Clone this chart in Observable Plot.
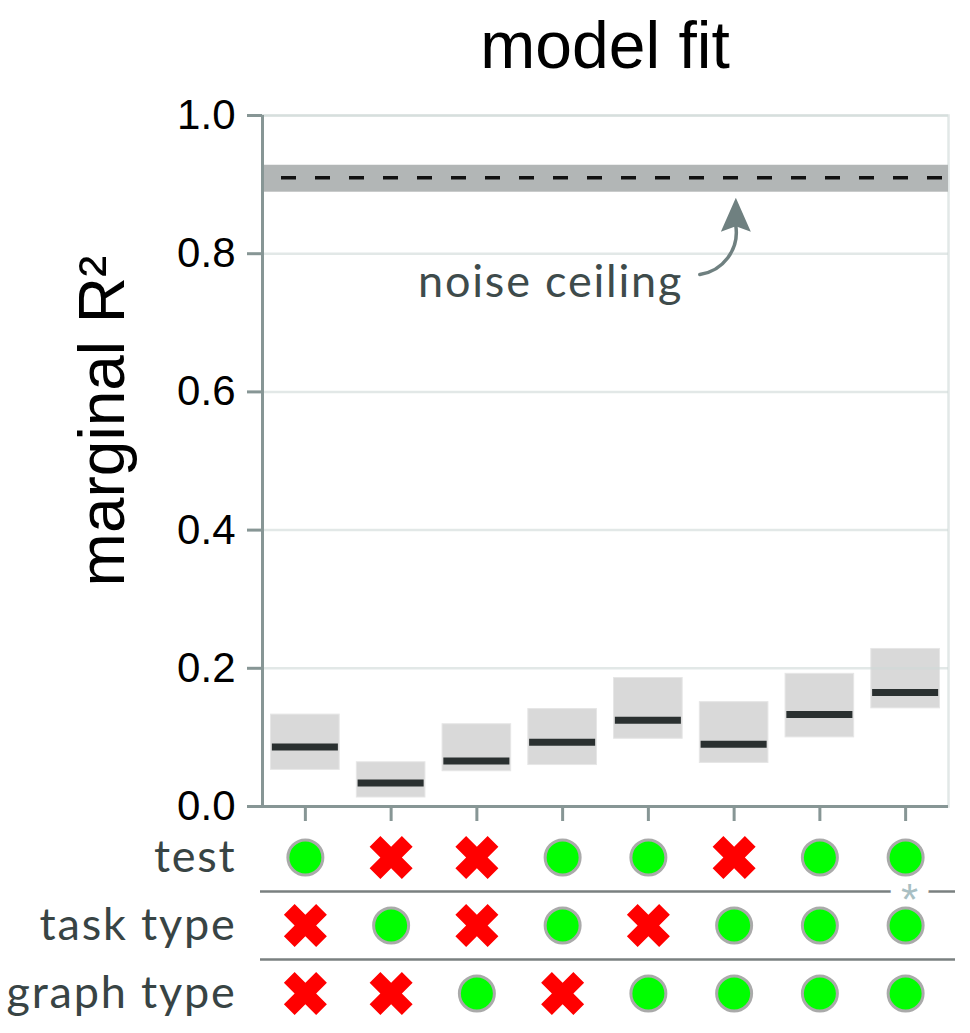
<!DOCTYPE html>
<html>
<head>
<meta charset="utf-8">
<script src="https://cdn.jsdelivr.net/npm/d3@7"></script>
<script src="https://cdn.jsdelivr.net/npm/@observablehq/plot@0.6"></script>
<style>
  body { margin: 0; background: #fff; width: 970px; }
  #title { box-sizing: border-box; height: 90px; padding: 12px 22px 0 262px; text-align: center;
           font-family: "Liberation Sans", Arial, sans-serif; font-size: 66px; line-height: 66px; color: #000; }
  svg { display: block; }
  g[font-family="Lato"] text { letter-spacing: 1.8px; }
</style>
</head>
<body>
<div id="title">model fit</div>
<div id="chart1"></div>
<div id="chart2"></div>
<script>
// ---- data ----
const models = [1, 2, 3, 4, 5, 6, 7, 8];
const medians = [0.086, 0.034, 0.066, 0.093, 0.125, 0.090, 0.133, 0.165];
const lows    = [0.053, 0.013, 0.051, 0.060, 0.098, 0.063, 0.100, 0.142];
const highs   = [0.133, 0.064, 0.119, 0.141, 0.186, 0.151, 0.192, 0.228];
const yTicks = [0, 0.2, 0.4, 0.6, 0.8, 1.0];
const yLabel = "marginal R²";
const ceilingLo = 0.889, ceilingMid = 0.910, ceilingHi = 0.928;
const noteText = "noise ceiling";
const notePos = {x: 3.86, y: 0.738};
const arrowStart = {x: 5.60, y: 0.770};
const arrowEnd = {x: 6.02, y: 0.840};
const arrowTip = {x: 6.02, y: 0.881};
const rowLabels = ["test", "task type", "graph type"];
const testUsed  = [1, 0, 0, 1, 1, 0, 1, 1];
const taskUsed  = [0, 1, 0, 1, 0, 1, 1, 1];
const graphUsed = [0, 0, 1, 0, 1, 1, 1, 1];
const starMark = {col: 8, between: 0.5, text: "*"};

// ---- derived tables ----
const boxes = models.map((m, k) => ({m, lo: lows[k], hi: highs[k], med: medians[k]}));
const ceiling = [{lo: ceilingLo, mid: ceilingMid, hi: ceilingHi}];
const cells = [];
[testUsed, taskUsed, graphUsed].forEach((arr, row) =>
  arr.forEach((on, k) => cells.push({col: models[k], row, on: !!on})));

// ---- custom symbols ----
const thickX = {
  draw(ctx, size) {
    const s = Math.sqrt(size / Math.PI), k = s * 0.5;
    const pts = [[-(s-k), -s], [0, -k], [s-k, -s], [s, -(s-k)], [k, 0], [s, s-k],
                 [s-k, s], [0, k], [-(s-k), s], [-s, s-k], [-k, 0], [-s, -(s-k)]];
    ctx.moveTo(pts[0][0], pts[0][1]);
    for (let i = 1; i < pts.length; i++) ctx.lineTo(pts[i][0], pts[i][1]);
    ctx.closePath();
  }
};
const arrowHead = {
  draw(ctx, size) {
    const s = Math.sqrt(size / Math.PI);
    ctx.moveTo(0, 0);
    ctx.lineTo(s, 2.27 * s);
    ctx.lineTo(0, 1.9 * s);
    ctx.lineTo(-s, 2.27 * s);
    ctx.closePath();
  }
};

const axisColor = "#879695";
const xDomain = [0.5, 8.5];

const p1 = Plot.plot({
  width: 970, height: 740,
  marginLeft: 262, marginRight: 22, marginTop: 25, marginBottom: 24,
  x: {domain: xDomain},
  y: {domain: [0, 1]},
  style: {fontFamily: "'Liberation Sans', Arial, sans-serif", fontSize: "42px", background: "white", overflow: "visible"},
  marks: [
    Plot.frame({stroke: "#e2e8e7", strokeWidth: 2.5}),
    Plot.rect(ceiling, {y1: "lo", y2: "hi", fill: "#b2b6b6"}),
    Plot.rect(boxes, {x1: d => d.m - 0.4, x2: d => d.m + 0.4, y1: "lo", y2: "hi", fill: "#d9d9d9", stroke: "#e6e6e6", strokeWidth: 1}),
    Plot.gridY(yTicks, {stroke: "#cfd9d7", strokeOpacity: 0.6, strokeWidth: 2.5}),
    Plot.ruleY(boxes, {y: "med", x1: d => d.m - 0.385, x2: d => d.m + 0.385, stroke: "#2a3030", strokeWidth: 7}),
    Plot.ruleY(ceiling, {y: "mid", stroke: "#111", strokeWidth: 3.5, strokeDasharray: "15,19", strokeDashoffset: 15}),
    Plot.arrow([{x1: arrowStart.x, y1: arrowStart.y, x2: arrowEnd.x, y2: arrowEnd.y}],
      {x1: "x1", y1: "y1", x2: "x2", y2: "y2", bend: -45, headLength: 0, stroke: "#6f8080", strokeWidth: 3.5, strokeLinecap: "round"}),
    Plot.dot([arrowTip], {x: "x", y: "y", symbol: arrowHead, r: 15, fill: "#6f8080"}),
    Plot.text([notePos], {x: "x", y: "y", text: () => noteText, fontFamily: "Lato", fontSize: 45, fill: "#3e4b4b", textAnchor: "middle", lineAnchor: "bottom"}),
    Plot.ruleX([xDomain[0]], {stroke: axisColor, strokeWidth: 3}),
    Plot.ruleY([0], {stroke: axisColor, strokeWidth: 3}),
    Plot.axisY(yTicks, {tickFormat: d3.format(".1f"), tickSize: 15, tickPadding: 12, stroke: axisColor, strokeWidth: 3, fill: "black", fontSize: 42, label: null}),
    Plot.axisX(models, {tickFormat: () => "", tickSize: 15, stroke: axisColor, strokeWidth: 3, label: null}),
    Plot.text([yLabel], {frameAnchor: "left", rotate: -90, dx: -139, dy: -40, lineAnchor: "bottom", textAnchor: "middle", fontSize: 64, fill: "black"})
  ]
});
document.getElementById("chart1").append(p1);

const p2 = Plot.plot({
  width: 970, height: 203,
  marginLeft: 260, marginRight: 15, marginTop: 0, marginBottom: 0,
  x: {domain: xDomain, range: [262, 948], axis: null},
  y: {domain: [0, 2], range: [27, 163]},
  style: {fontFamily: "Lato, sans-serif", fontSize: "45px", background: "white", overflow: "visible"},
  marks: [
    Plot.ruleY([0.5, 1.5], {stroke: "#7a8080", strokeWidth: 2.5}),
    Plot.text([starMark], {x: "col", y: "between", text: "text", fontFamily: "'Liberation Sans', sans-serif", fontSize: 44, fill: "#a9bfc3",
      stroke: "white", strokeWidth: 22, paintOrder: "stroke", strokeLinejoin: "round", dx: 4, dy: 9}),
    Plot.dot(cells.filter(d => d.on), {x: "col", y: "row", r: 17.5, fill: "#00ff00", stroke: "#aaaaaa", strokeWidth: 3}),
    Plot.dot(cells.filter(d => !d.on), {x: "col", y: "row", r: 21.5, symbol: thickX, fill: "#ff0000"}),
    Plot.axisY([0, 1, 2], {tickFormat: i => rowLabels[i], tickSize: 0, tickPadding: 24, fontSize: 45, fontFamily: "Lato", fill: "#384444", label: null})
  ]
});
document.getElementById("chart2").append(p2);
</script>
</body>
</html>
